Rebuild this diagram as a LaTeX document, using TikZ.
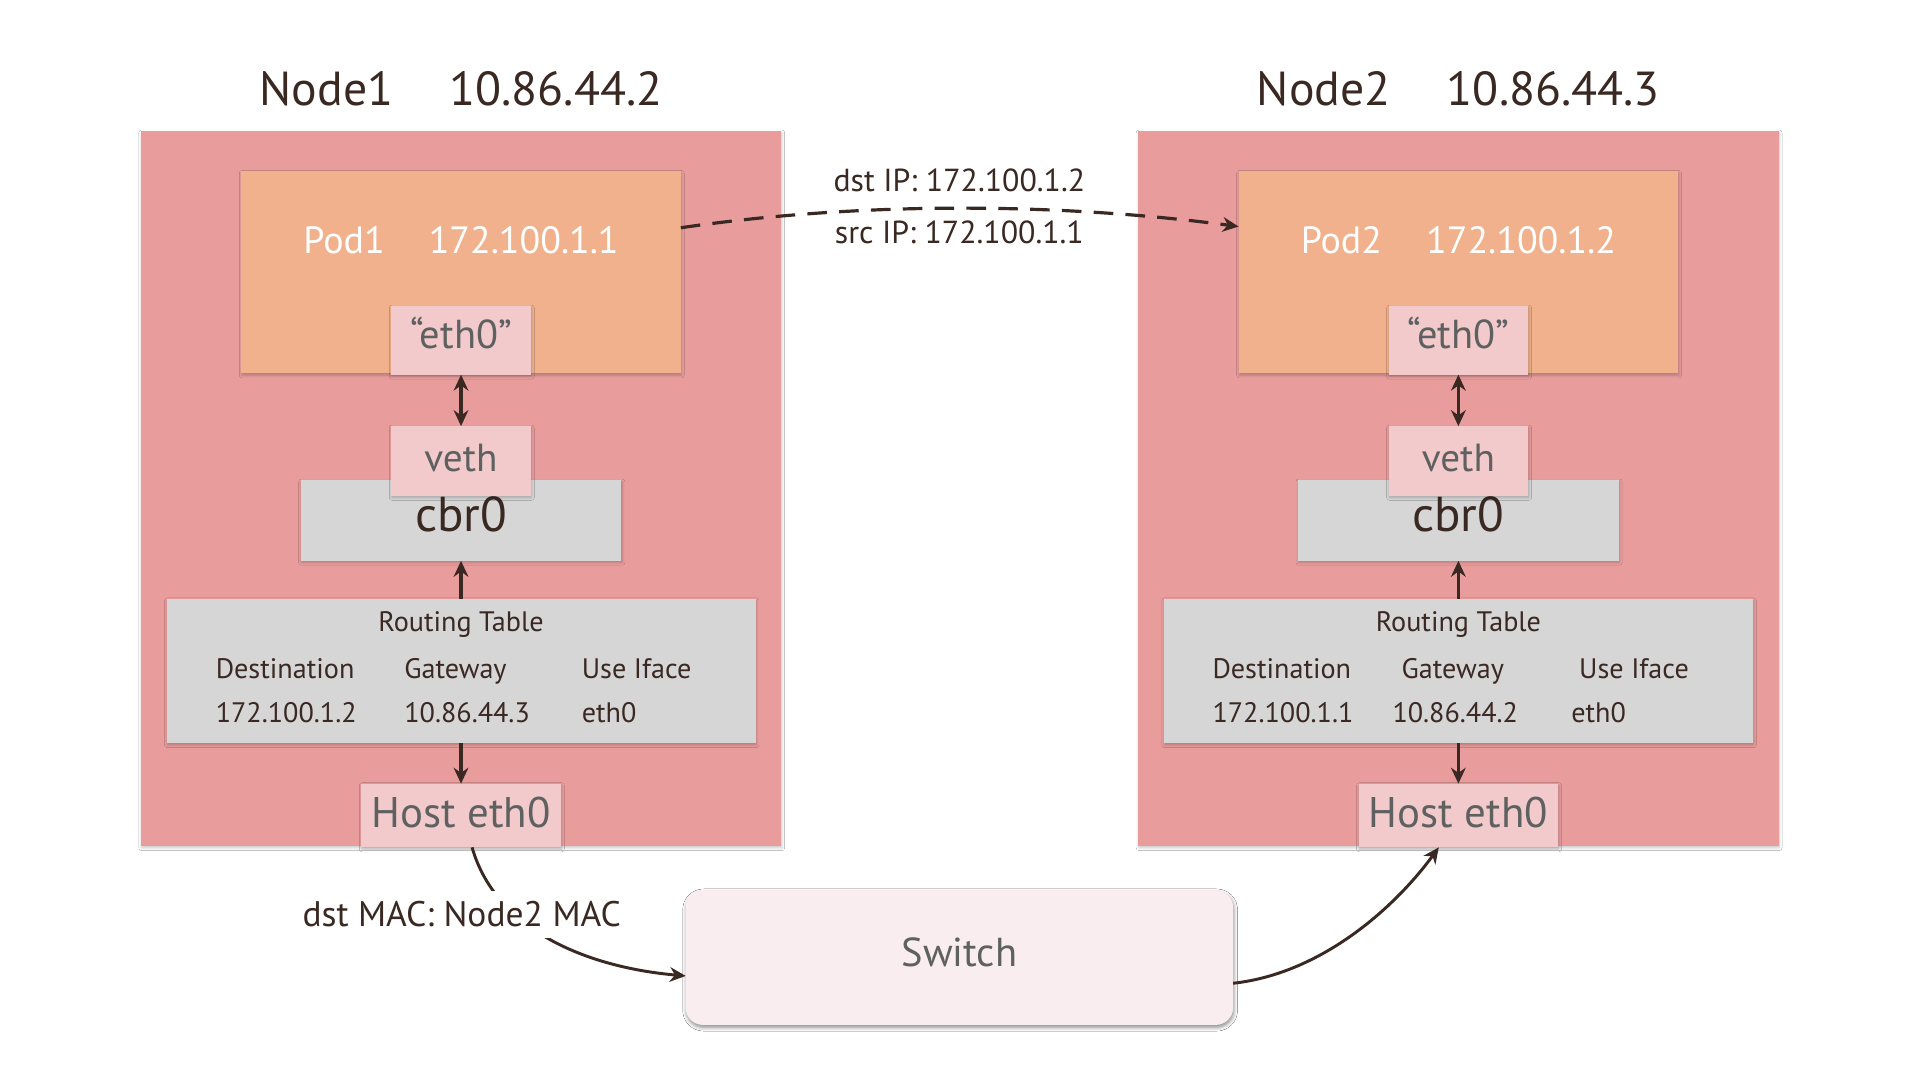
\documentclass[tikz,border=0pt]{standalone}
\usepackage{fontspec}
\setmainfont{PT Sans}
\usetikzlibrary{arrows.meta,shadows.blur}
\definecolor{nodebg}{RGB}{232,157,156}
\definecolor{podbg}{RGB}{240,177,140}
\definecolor{pinkbox}{RGB}{243,202,204}
\definecolor{graybox}{RGB}{214,214,214}
\definecolor{switchbg}{RGB}{249,237,240}
\definecolor{darktxt}{RGB}{58,40,34}
\definecolor{graytxt}{RGB}{95,97,97}
\begin{document}
\begin{tikzpicture}[x=1pt,y=-1pt,
  shade/.style={blur shadow={shadow xshift=0.6pt,shadow yshift=-1.4pt,shadow blur radius=2.2pt,shadow opacity=22}},
  rect/.style n args={3}{draw=none,inner sep=0pt,outer sep=0pt,minimum width=#1,minimum height=#2,fill=#3,shade},
  txt/.style={inner sep=0pt,anchor=base},
  tip/.style={},
  arr/.style={draw=darktxt,line width=2.8pt,-{Stealth[length=13pt,width=12pt]}},
  darr/.style={draw=darktxt,line width=2.8pt,{Stealth[length=13pt,width=12pt]}-{Stealth[length=13pt,width=12pt]}}
]
\useasboundingbox (0,0) rectangle (1568,882);
\fill[white] (0,0) rectangle (1568,882);

\foreach \i/\cx/\nname/\nip/\pname/\pip/\dst/\gw/\vd/\vg/\ve in
  {1/376.5/Node1/10.86.44.2/Pod1/172.100.1.1/172.100.1.2/10.86.44.3/-200.5/-46.5/98.5,
   2/1191/Node2/10.86.44.3/Pod2/172.100.1.2/172.100.1.1/10.86.44.2/-201/-54/92}{
  % title
  \node[txt,font=\fontsize{39}{44}\selectfont,text=darktxt] (title\i) at (\cx,86) {\nname\hspace{46pt}\nip};
  % node frame
  \node[rect={523pt}{584pt}{nodebg}] (node\i) at (\cx,399) {};
  % pod
  \node[rect={359pt}{165pt}{podbg}] (pod\i) at (\cx,222.5) {};
  \node[txt,font=\fontsize{31}{36}\selectfont,text=white] (podtxt\i) at (\cx,207) {\pname\hspace{36pt}\pip};
  % eth0
  \node[rect={114pt}{56pt}{pinkbox}] (eth\i) at (\cx,278) {};
  \node[txt,font=\fontsize{33}{36}\selectfont,text=graytxt] (ethtxt\i) at (\cx,285) {“eth0”};
  % cbr0
  \node[rect={262pt}{66pt}{graybox}] (cbr\i) at (\cx,425) {};
  \node[txt,font=\fontsize{40}{44}\selectfont,text=darktxt] (cbrtxt\i) at (\cx,434) {cbr0};
  % veth
  \node[rect={114pt}{57pt}{pinkbox}] (veth\i) at (\cx,376.5) {};
  \node[txt,font=\fontsize{32}{36}\selectfont,text=graytxt] (vethtxt\i) at (\cx,385) {veth};
  % routing table
  \node[rect={481pt}{118pt}{graybox}] (rt\i) at (\cx,548) {};
  \begin{scope}[every node/.style={txt,font=\fontsize{23}{26}\selectfont,text=darktxt}]
    \node (rtt\i) at (\cx,516) {Routing Table};
    \node[anchor=base west] (hd\i) at (\cx+\vd,554) {Destination};
    \node[anchor=base west] (hg\i) at (\cx-46.5,554) {Gateway};
    \node[anchor=base west] (hu\i) at (\cx+98.5,554) {Use Iface};
    \node[anchor=base west] (vd\i) at (\cx+\vd,590) {\dst};
    \node[anchor=base west] (vg\i) at (\cx+\vg,590) {\gw};
    \node[anchor=base west] (ve\i) at (\cx+\ve,590) {eth0};
  \end{scope}
  % host eth0
  \node[rect={163pt}{52pt}{pinkbox}] (host\i) at (\cx,666) {};
  \node[txt,font=\fontsize{35}{38}\selectfont,text=graytxt] (hosttxt\i) at (\cx,676) {Host eth0};
  % arrows
  \draw[darr] (eth\i.south) -- (veth\i.north);
  \draw[arr] (rt\i.north) -- (cbr\i.south);
  \draw[arr] (rt\i.south) -- (host\i.north);
}

% switch
\node[rect={447pt}{110pt}{switchbg},rounded corners=14pt,
  blur shadow={shadow xshift=0.6pt,shadow yshift=-2pt,shadow blur radius=3pt,shadow opacity=25}] (switch) at (783.5,782) {};
\node[txt,font=\fontsize{33}{36}\selectfont,text=graytxt] (switchtxt) at (783.5,789) {Switch};

% dashed pod-to-pod
\draw[draw=darktxt,line width=2.6pt,dash pattern=on 16pt off 10pt,-{Stealth[length=13pt,width=12pt]}]
  ([yshift=36.5pt]pod1.east) .. controls (700,165) and (860,165) .. ([yshift=37.5pt]pod2.west);
\node[txt,font=\fontsize{26}{30}\selectfont,text=darktxt] (dstip) at (783.5,156) {dst IP: 172.100.1.2};
\node[txt,font=\fontsize{26}{30}\selectfont,text=darktxt] (srcip) at (783.5,199) {src IP: 172.100.1.1};

% host1 -> switch
\draw[arr,line width=2.4pt] ([xshift=9pt]host1.south) .. controls (405,760) and (480,790) .. ([yshift=-15pt]switch.west);
\node[txt,font=\fontsize{29}{32}\selectfont,text=darktxt,fill=white,inner sep=9pt] (mac) at (377,757) {dst MAC: Node2 MAC};

% switch -> host2
\draw[arr,line width=2.4pt] ([yshift=-21pt]switch.east) .. controls (1080,795) and (1140,740) .. ([xshift=-16pt]host2.south);
\end{tikzpicture}
\end{document}
